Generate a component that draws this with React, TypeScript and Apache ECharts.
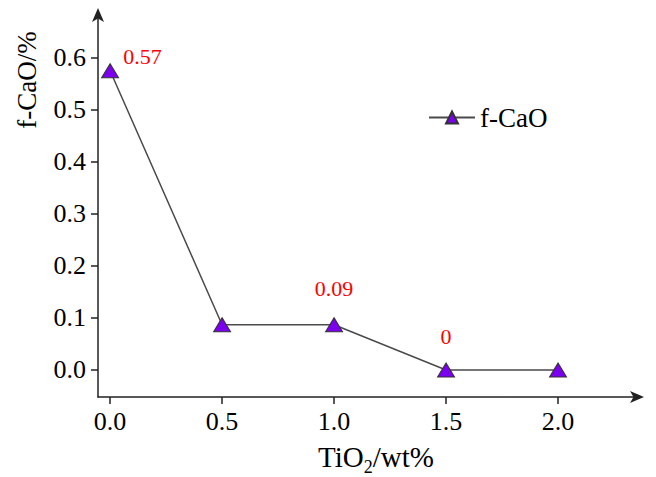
import React, { useEffect, useRef } from "react";
import * as echarts from "echarts";

const xValues = [0.0, 0.5, 1.0, 1.5, 2.0];
const yValues = [0.575, 0.087, 0.087, 0.0, 0.0];
const pointLabels = ["0.57", "", "0.09", "0", ""];
const labelPositions = ["right", "top", "top", "top", "top"];
const labelDistances = [4, 0, 18, 15, 0];
const xTicks = [0.0, 0.5, 1.0, 1.5, 2.0];
const yTicks = [0.0, 0.1, 0.2, 0.3, 0.4, 0.5, 0.6];
const seriesName = "f-CaO";

const FONT = "'Liberation Serif', 'Times New Roman', serif";

export default function App() {
  const ref = useRef<HTMLDivElement>(null);
  useEffect(() => {
    if (!ref.current) return;
    const chart = echarts.init(ref.current, undefined, { renderer: "svg" });
    const data = xValues.map((x, i) => {
      const lbl = pointLabels[i];
      return {
        value: [x, yValues[i]],
        label: lbl
          ? {
              show: true,
              formatter: lbl,
              position: labelPositions[i],
              distance: labelDistances[i],
              offset: labelPositions[i] === "right" ? [0, -14] : [0, 0],
              color: "#ff0000",
              fontFamily: FONT,
              fontSize: 22,
            }
          : { show: false },
      };
    });
    chart.setOption({
      animation: false,
      backgroundColor: "#ffffff",
      textStyle: { fontFamily: FONT },
      grid: { left: 98, right: 16, top: 12, bottom: 80, containLabel: false },
      legend: {
        show: true,
        left: 423,
        top: 99,
        itemWidth: 46,
        itemHeight: 15,
        itemGap: 6,
        textStyle: { fontFamily: FONT, fontSize: 27, color: "#000" },
        data: [seriesName],
      },
      xAxis: {
        type: "value",
        min: -0.054,
        max: 2.366,
        axisLine: {
          show: true,
          onZero: false,
          lineStyle: { color: "#222", width: 1.5 },
          symbol: ["none", "arrow"],
          symbolSize: [9, 14],
          symbolOffset: [0, 4],
        },
        axisTick: {
          show: true,
          customValues: xTicks,
          length: 7,
          lineStyle: { color: "#222", width: 1.5 },
        },
        axisLabel: {
          customValues: xTicks,
          formatter: (v: number) => v.toFixed(1),
          fontFamily: FONT,
          fontSize: 26,
          color: "#000",
          margin: 11,
        },
        splitLine: { show: false },
      },
      yAxis: {
        type: "value",
        min: -0.052,
        max: 0.688,
        axisLine: {
          show: true,
          onZero: false,
          lineStyle: { color: "#222", width: 1.5 },
          symbol: ["none", "arrow"],
          symbolSize: [9, 14],
          symbolOffset: [0, 4],
        },
        axisTick: {
          show: true,
          customValues: yTicks,
          length: 7,
          lineStyle: { color: "#222", width: 1.5 },
        },
        axisLabel: {
          customValues: yTicks,
          formatter: (v: number) => v.toFixed(1),
          fontFamily: FONT,
          fontSize: 26,
          color: "#000",
          margin: 12,
        },
        splitLine: { show: false },
      },
      graphic: [
        {
          type: "text",
          x: 27,
          y: 80,
          rotation: Math.PI / 2,
          style: {
            text: "f-CaO/%",
            font: "27px " + FONT,
            fill: "#000",
            align: "center",
            verticalAlign: "middle",
          },
        },
        {
          type: "text",
          x: 376,
          y: 457,
          style: {
            text: "{a|TiO}{s|2}{a|/wt%}",
            align: "center",
            verticalAlign: "middle",
            rich: {
              a: { fontFamily: FONT, fontSize: 29, fill: "#000", color: "#000" },
              s: { fontFamily: FONT, fontSize: 18, fill: "#000", color: "#000", padding: [20, 0, 0, 0] },
            },
          },
        },
      ],
      series: [
        {
          name: seriesName,
          type: "line",
          data,
          symbol: "triangle",
          symbolSize: [17, 14],
          lineStyle: { color: "#4a4a4a", width: 1.5 },
          itemStyle: { color: "#7b00ee", borderColor: "#333", borderWidth: 1 },
        },
      ],
    });
    return () => chart.dispose();
  }, []);
  return <div ref={ref} style={{ width: 656, height: 477, position: "absolute", left: 0, top: 0 }} />;
}
